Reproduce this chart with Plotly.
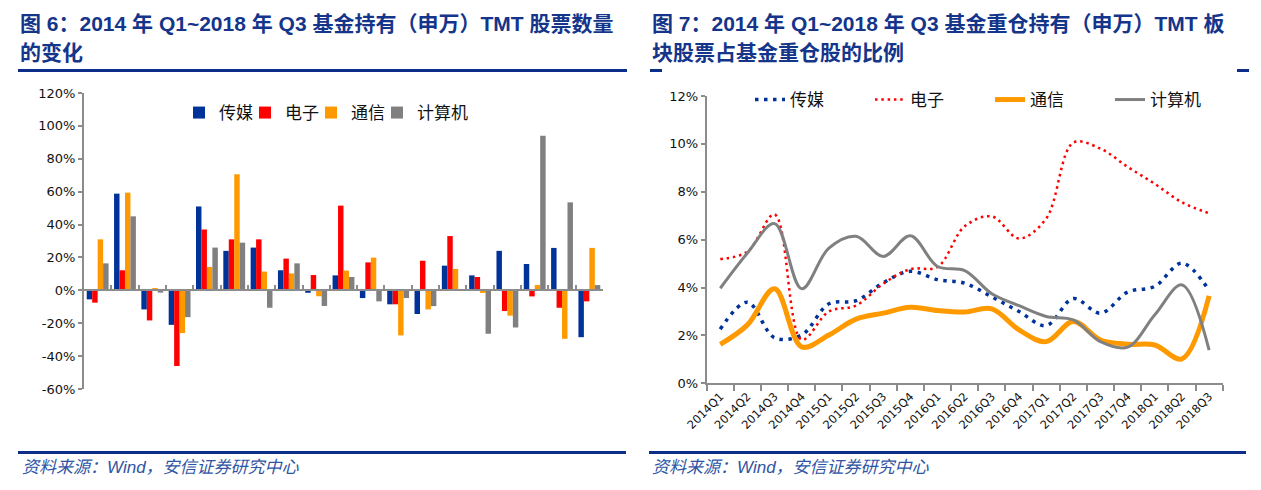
import plotly.graph_objects as go

W, H = 1261, 490

quarters = ["2014Q1", "2014Q2", "2014Q3", "2014Q4", "2015Q1", "2015Q2", "2015Q3", "2015Q4",
            "2016Q1", "2016Q2", "2016Q3", "2016Q4", "2017Q1", "2017Q2", "2017Q3", "2017Q4",
            "2018Q1", "2018Q2", "2018Q3"]

series_names = ["传媒", "电子", "通信", "计算机"]

# Fig 6: change in number of TMT stocks held by funds (%)
cnt_media = [-5.5, 58.8, -11.6, -21.0, 51.0, 24.0, 26.0, 12.2, -1.5, 9.1, -4.7, -8.5, -14.4, 15.0, 9.1, 24.0, 16.0, 25.8, -28.5]
cnt_elec = [-7.5, 12.2, -18.3, -46.0, 37.0, 31.0, 31.0, 19.3, 9.3, 51.5, 17.0, -8.5, 18.0, 33.0, 8.1, -12.6, -3.7, -10.6, -6.7]
cnt_tele = [31.0, 59.4, 1.4, -26.0, 14.2, 70.6, 11.4, 10.3, -3.6, 12.0, 19.9, -27.4, -11.6, 13.0, -1.6, -15.4, 3.2, -29.5, 25.8]
cnt_comp = [16.4, 45.0, -1.4, -16.3, 26.0, 29.0, -10.6, 16.4, -9.5, 8.1, -6.7, -4.7, -9.6, 0.3, -26.4, -22.6, 94.0, 53.5, 3.2]

# Fig 7: share of TMT stocks in funds' heavy holdings (%)
w_media = [2.26, 3.39, 1.9, 2.02, 3.32, 3.45, 4.2, 4.68, 4.33, 4.18, 3.61, 3.0, 2.41, 3.54, 2.93, 3.81, 4.05, 5.02, 3.88]
w_elec = [5.19, 5.5, 7.05, 1.82, 3.0, 3.25, 4.16, 4.77, 4.86, 6.56, 6.97, 6.05, 6.88, 10.05, 9.8, 9.04, 8.33, 7.56, 7.1]
w_tele = [1.63, 2.44, 3.95, 1.52, 2.02, 2.68, 2.93, 3.18, 3.04, 2.98, 3.11, 2.23, 1.74, 2.58, 1.81, 1.63, 1.6, 1.02, 3.65]
w_comp = [3.97, 5.44, 6.67, 3.95, 5.65, 6.14, 5.3, 6.16, 4.88, 4.71, 3.74, 3.24, 2.79, 2.65, 1.74, 1.51, 2.86, 4.11, 1.39]

left_ticks = [-60, -40, -20, 0, 20, 40, 60, 80, 100, 120]
left_ticktext = ["-60%", "-40%", "-20%", "0%", "20%", "40%", "60%", "80%", "100%", "120%"]
right_ticks = [0, 2, 4, 6, 8, 10, 12]
right_ticktext = ["0%", "2%", "4%", "6%", "8%", "10%", "12%"]

title6 = ["图 6：2014 年 Q1~2018 年 Q3 基金持有（申万）TMT 股票数量", "的变化"]
title7 = ["图 7：2014 年 Q1~2018 年 Q3 基金重仓持有（申万）TMT 板", "块股票占基金重仓股的比例"]
source = "资料来源：Wind，安信证券研究中心"

bar_colors = ["#003399", "#FF0000", "#FF9900", "#808080"]
AXC = "#8c8c8c"
NAVY = "#14358a"
TICKFONT = dict(family="DejaVu Sans, Noto Sans CJK SC", size=13, color="#111111")
XTICKFONT = dict(family="DejaVu Sans, Noto Sans CJK SC", size=11.5, color="#111111")
CJK = "Liberation Sans, Noto Sans CJK SC"

fig = go.Figure()

for name, vals, col in zip(series_names, [cnt_media, cnt_elec, cnt_tele, cnt_comp], bar_colors):
    fig.add_trace(go.Bar(x=quarters, y=vals, name=name, marker=dict(color=col, line=dict(width=0)),
                         xaxis="x", yaxis="y", legend="legend"))
# empty spacer entry so the last legend label is not clipped
fig.add_trace(go.Scatter(x=[None], y=[None], name=" ", mode="lines", line=dict(width=0, color="white"),
                         xaxis="x", yaxis="y", legend="legend", hoverinfo="skip"))

line_styles = [
    dict(color="#003399", width=3.5, dash="3.5px,5.5px"),
    dict(color="#FF0000", width=2.5, dash="2.5px,3.8px"),
    dict(color="#FF9900", width=5),
    dict(color="#808080", width=3),
]
for name, vals, ls in zip(series_names, [w_media, w_elec, w_tele, w_comp], line_styles):
    fig.add_trace(go.Scatter(x=quarters, y=vals, name=name, mode="lines",
                             line=dict(shape="spline", smoothing=1.0, **ls),
                             xaxis="x2", yaxis="y2", legend="legend2"))

# left plot geometry
lx0, lx1 = 84 / W, 603 / W
ly0, ly1 = 1 - 389 / H, 1 - 93 / H
zero_pos = ly0 + (ly1 - ly0) * (0 - (-60)) / (120 - (-60))
# right plot geometry
rx0, rx1 = 706.7 / W, 1222.7 / W
ry0, ry1 = 1 - 383.3 / H, 1 - 96 / H

fig.update_layout(
    width=W, height=H, autosize=False,
    margin=dict(l=0, r=0, t=0, b=0, pad=0, autoexpand=False),
    paper_bgcolor="white", plot_bgcolor="white",
    barmode="group", bargap=0.2, bargroupgap=0.0,
    showlegend=True,
    xaxis=dict(domain=[lx0, lx1], anchor="free", position=zero_pos, type="category",
               categoryorder="array", categoryarray=quarters,
               showline=True, linecolor=AXC, linewidth=2,
               ticks="inside", ticklen=4, tickwidth=2, tickcolor=AXC, tickson="boundaries",
               showticklabels=False, showgrid=False, zeroline=False, range=[-0.5, 18.5],
               automargin=False),
    xaxis3=dict(overlaying="x", anchor="y", side="bottom", range=[-0.5, 18.5],
                tickmode="array", tickvals=list(range(len(quarters))), ticktext=quarters,
                tickangle=-45, tickfont=XTICKFONT, showline=False, ticks="",
                showgrid=False, zeroline=False, ticklabelstandoff=4, automargin=False),
    yaxis=dict(domain=[ly0, ly1], anchor="x", range=[-60, 120], tickmode="array",
               tickvals=left_ticks, ticktext=left_ticktext, tickfont=TICKFONT,
               showline=True, linecolor=AXC, linewidth=2, ticks="outside", ticklen=4,
               tickwidth=2, tickcolor=AXC, showgrid=False, zeroline=False, automargin=False),
    xaxis2=dict(domain=[rx0, rx1], anchor="y2", type="category",
                categoryorder="array", categoryarray=quarters,
                showline=True, linecolor=AXC, linewidth=2,
                ticks="outside", ticklen=6, tickwidth=2, tickcolor=AXC, tickson="boundaries",
                tickangle=-45, tickfont=XTICKFONT, showgrid=False, zeroline=False,
                range=[-0.5, 18.5], automargin=False),
    yaxis2=dict(domain=[ry0, ry1], anchor="x2", range=[0, 12], tickmode="array",
                tickvals=right_ticks, ticktext=right_ticktext, tickfont=TICKFONT,
                showline=True, linecolor=AXC, linewidth=2, ticks="outside", ticklen=4,
                tickwidth=2, tickcolor=AXC, showgrid=False, zeroline=False, automargin=False),
    legend=dict(orientation="h", x=179 / W, y=1 - 113 / H, xanchor="left", yanchor="middle",
                font=dict(family=CJK, size=17, color="#111111"), bgcolor="rgba(0,0,0,0)",
                entrywidth=21, entrywidthmode="pixels", traceorder="normal"),
    legend2=dict(orientation="h", x=750 / W, y=1 - 100 / H, xanchor="left", yanchor="middle",
                 font=dict(family=CJK, size=17, color="#111111"), bgcolor="rgba(0,0,0,0)",
                 entrywidth=75, entrywidthmode="pixels", traceorder="normal"),
)

annotations = []
for txt, x0 in [(title6, 18), (title7, 650)]:
    for i, line in enumerate(txt):
        annotations.append(dict(text="<b>" + line + "</b>", xref="paper", yref="paper", x=x0 / W,
                                y=1 - (23 + 29.5 * i) / H,
                                xanchor="left", yanchor="middle", showarrow=False,
                                font=dict(family=CJK, size=21, color=NAVY)))
for x0 in [20, 650]:
    annotations.append(dict(text="<i>" + source + "</i>", xref="paper", yref="paper", x=x0 / W,
                            y=1 - 467 / H, xanchor="left", yanchor="middle", showarrow=False,
                            font=dict(family=CJK, size=17, color="#2f55a4")))
fig.update_layout(annotations=annotations)

shapes = []
def hline(x0, x1, y, w=3):
    shapes.append(dict(type="line", xref="paper", yref="paper", x0=x0 / W, x1=x1 / W,
                       y0=1 - y / H, y1=1 - y / H, line=dict(color="#0d2d8a", width=w)))
hline(18, 627, 70.5)
hline(650, 662, 70.5)
hline(1237, 1249, 70.5)
hline(18, 626, 452.5)
hline(649, 1246, 452.5)
fig.update_layout(shapes=shapes)

fig.write_html("out.html", config={"displayModeBar": False},
               post_script="document.body.style.margin='0px';")
